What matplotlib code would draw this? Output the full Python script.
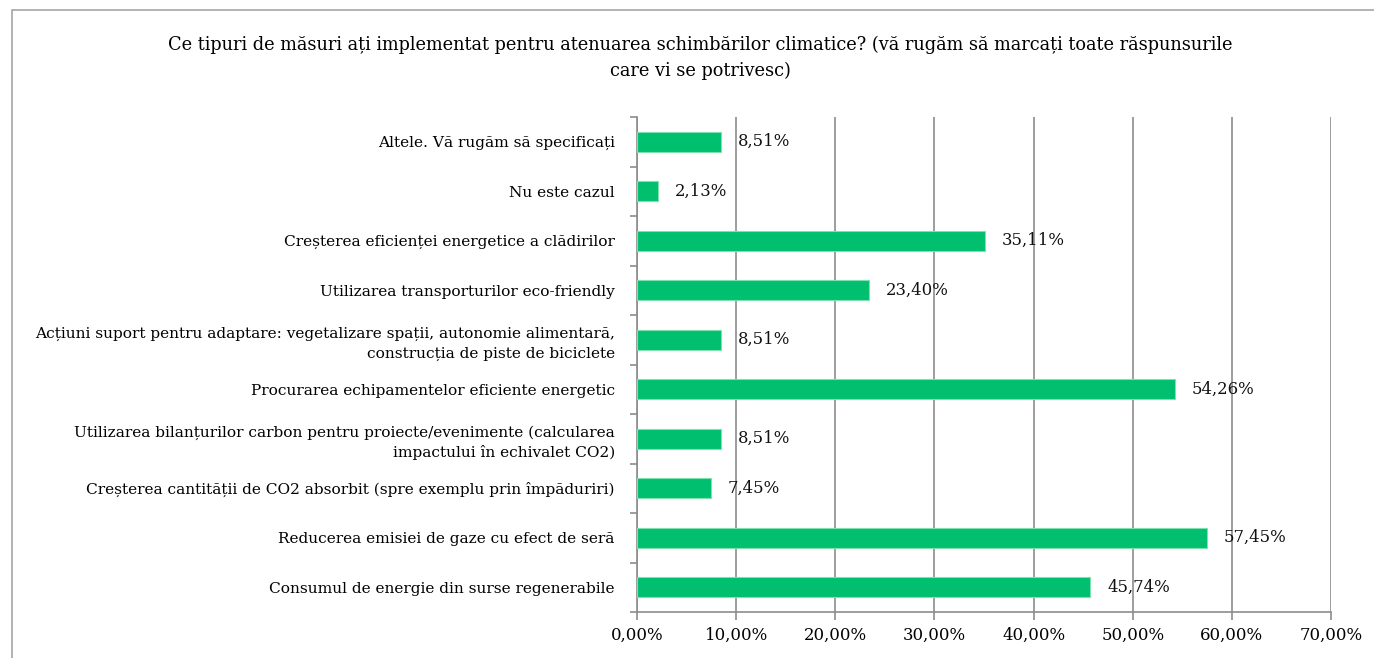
import matplotlib
matplotlib.use("Agg")
import matplotlib.pyplot as plt
from matplotlib.patches import Rectangle
from matplotlib.ticker import FixedLocator

categories = [
    "Consumul de energie din surse regenerabile",
    "Reducerea emisiei de gaze cu efect de seră",
    "Creșterea cantității de CO2 absorbit (spre exemplu prin împăduriri)",
    "Utilizarea bilanțurilor carbon pentru proiecte/evenimente (calcularea\nimpactului în echivalet CO2)",
    "Procurarea echipamentelor eficiente energetic",
    "Acțiuni suport pentru adaptare: vegetalizare spații, autonomie alimentară,\nconstrucția de piste de biciclete",
    "Utilizarea transporturilor eco-friendly",
    "Creșterea eficienței energetice a clădirilor",
    "Nu este cazul",
    "Altele. Vă rugăm să specificați",
]
values = [45.74, 57.45, 7.45, 8.51, 54.26, 8.51, 23.40, 35.11, 2.13, 8.51]
xticks = [0, 10, 20, 30, 40, 50, 60, 70]

title = ("Ce tipuri de măsuri ați implementat pentru atenuarea schimbărilor climatice? "
         "(vă rugăm să marcați toate răspunsurile\ncare vi se potrivesc)")

plt.rcParams['font.family'] = ['DejaVu Serif']

fig = plt.figure(figsize=(13.74, 6.58), dpi=100)
ax = fig.add_axes([637/1374, 1-612/658, 694/1374, 495/658])

pos = list(range(len(categories)))
ax.barh(pos, values, height=0.4, color="#00BF6F", edgecolor="#7FE0B0", linewidth=0.8, zorder=3)
for p, v in zip(pos, values):
    ax.text(v + 1.7, p, "{:.2f}%".format(v).replace(".", ","), va="center", ha="left",
            fontsize=11.9, color="#111111")

ax.set_xlim(0, 70)
ax.set_ylim(-0.5, len(categories) - 0.5)
ax.set_xticks(xticks)
ax.set_xticklabels(["{:.2f}%".format(t).replace(".", ",") for t in xticks], fontsize=11.9)
ax.set_yticks(pos)
ax.set_yticklabels(categories, fontsize=11.1, linespacing=1.45)
ax.yaxis.set_minor_locator(FixedLocator([i - 0.5 for i in range(len(categories) + 1)]))
ax.tick_params(axis="y", which="major", length=0, pad=16)
ax.tick_params(axis="y", which="minor", length=5, color="#8C8C8C", width=1.2)
ax.tick_params(axis="x", length=6, color="#8C8C8C", width=1.2, pad=5)
ax.grid(axis="x", color="#8C8C8C", linewidth=1.2, zorder=0)
for s in ["top", "right"]:
    ax.spines[s].set_visible(False)
for s in ["left", "bottom"]:
    ax.spines[s].set_color("#8C8C8C")
    ax.spines[s].set_linewidth(1.2)

fig.text(700/1374, 1-58/658, title, ha="center", va="center", fontsize=12.75, linespacing=1.5)

fig.patches.append(Rectangle((12/1374, -0.1), 1.2, 1-10/658+0.1, transform=fig.transFigure,
                             fill=False, edgecolor="#A6A6A6", linewidth=1.2))

fig.savefig("out.png", dpi=100)
